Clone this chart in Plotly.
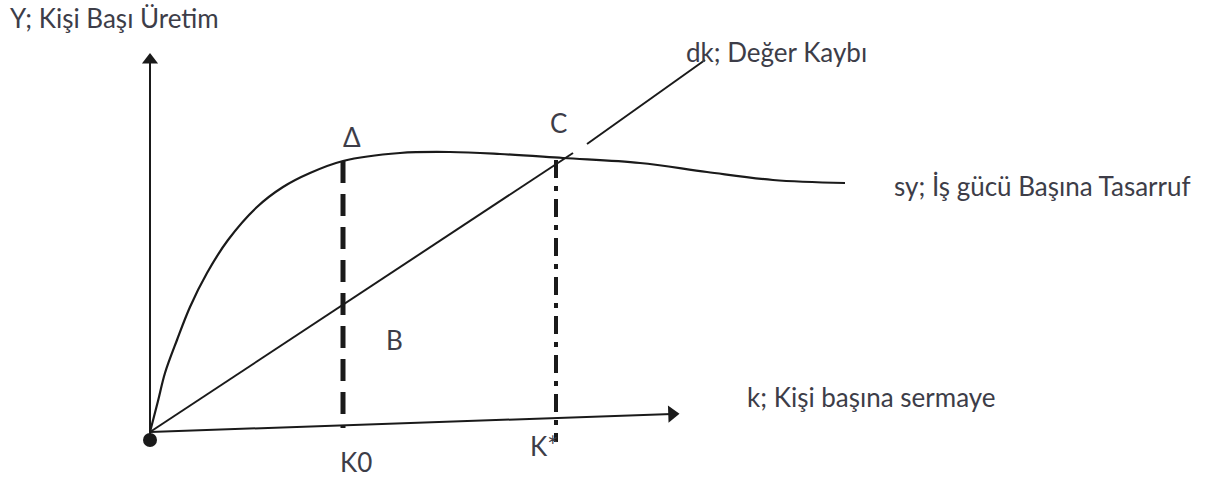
import plotly.graph_objects as go

# Schematic coordinates (picture units, y grows downward)
origin = [150, 432]
y_axis_x = [150, 150]
y_axis_y = [440, 60]
x_axis_x = [150, 672]
x_axis_y = [432, 414]

# sy curve: saving per worker
sy_x = [150, 158, 165, 177, 190, 207, 228, 257, 283, 310, 343, 400, 450, 500, 563, 640, 707, 773, 845]
sy_y = [432, 401, 373, 340, 307, 273, 240, 207, 187, 173, 161, 153, 152, 154, 158, 163, 172, 180, 183]

# dk line: depreciation (broken near C)
dk_x1 = [150, 573]
dk_y1 = [432, 153]
dk_x2 = [587, 705]
dk_y2 = [144, 60]

# Vertical guides at K0 and K*
k0_x = [343, 343]
k0_y = [161, 428]
ks_x = [556, 556]
ks_y = [160, 442]

labels = [
    ("Y; Kişi Başı Üretim", 8, 18),
    ("Δ", 341, 137),
    ("C", 548, 123),
    ("dk; Değer Kaybı", 684, 52),
    ("sy; İş gücü Başına Tasarruf", 892, 186),
    ("B", 384, 340),
    ("k; Kişi başına sermaye", 745, 397),
    ("K0", 338, 462),
    ("K*", 528, 446),
]

ink = "#1a1a1a"
text_color = "#3d3d48"

fig = go.Figure()

fig.add_trace(go.Scatter(x=y_axis_x, y=y_axis_y, mode="lines",
                         line=dict(color=ink, width=2), hoverinfo="skip"))
fig.add_trace(go.Scatter(x=x_axis_x, y=x_axis_y, mode="lines",
                         line=dict(color=ink, width=2), hoverinfo="skip"))
# arrow heads
fig.add_trace(go.Scatter(x=[y_axis_x[1]], y=[y_axis_y[1]], mode="markers",
                         marker=dict(symbol="triangle-up", size=14, color=ink),
                         hoverinfo="skip"))
fig.add_trace(go.Scatter(x=[x_axis_x[1]], y=[x_axis_y[1]], mode="markers",
                         marker=dict(symbol="triangle-right", size=15, color=ink, angle=-2),
                         hoverinfo="skip"))

fig.add_trace(go.Scatter(x=sy_x, y=sy_y, mode="lines", line_shape="spline",
                         line=dict(color=ink, width=2.2), hoverinfo="skip"))
fig.add_trace(go.Scatter(x=dk_x1, y=dk_y1, mode="lines",
                         line=dict(color=ink, width=2), hoverinfo="skip"))
fig.add_trace(go.Scatter(x=dk_x2, y=dk_y2, mode="lines",
                         line=dict(color=ink, width=2), hoverinfo="skip"))

fig.add_trace(go.Scatter(x=k0_x, y=k0_y, mode="lines",
                         line=dict(color=ink, width=5, dash="22px,11px"), hoverinfo="skip"))
fig.add_trace(go.Scatter(x=ks_x, y=ks_y, mode="lines",
                         line=dict(color=ink, width=4, dash="18px,8px,5px,8px"), hoverinfo="skip"))

fig.add_trace(go.Scatter(x=[origin[0]], y=[origin[1] + 8], mode="markers",
                         marker=dict(size=14, color=ink), hoverinfo="skip"))

for txt, x, y in labels:
    fig.add_annotation(x=x, y=y, text=txt, showarrow=False, xanchor="left",
                       yanchor="middle", font=dict(size=26, color=text_color,
                                                   family="Lato, Open Sans, sans-serif"))

fig.update_layout(
    width=1213, height=477,
    margin=dict(l=0, r=0, t=0, b=0),
    paper_bgcolor="white", plot_bgcolor="white",
    showlegend=False,
    xaxis=dict(range=[0, 1213], visible=False, fixedrange=True),
    yaxis=dict(range=[477, 0], visible=False, fixedrange=True),
)

fig.write_html("out.html", config={"displayModeBar": False},
               post_script="document.body.style.margin='0';")
